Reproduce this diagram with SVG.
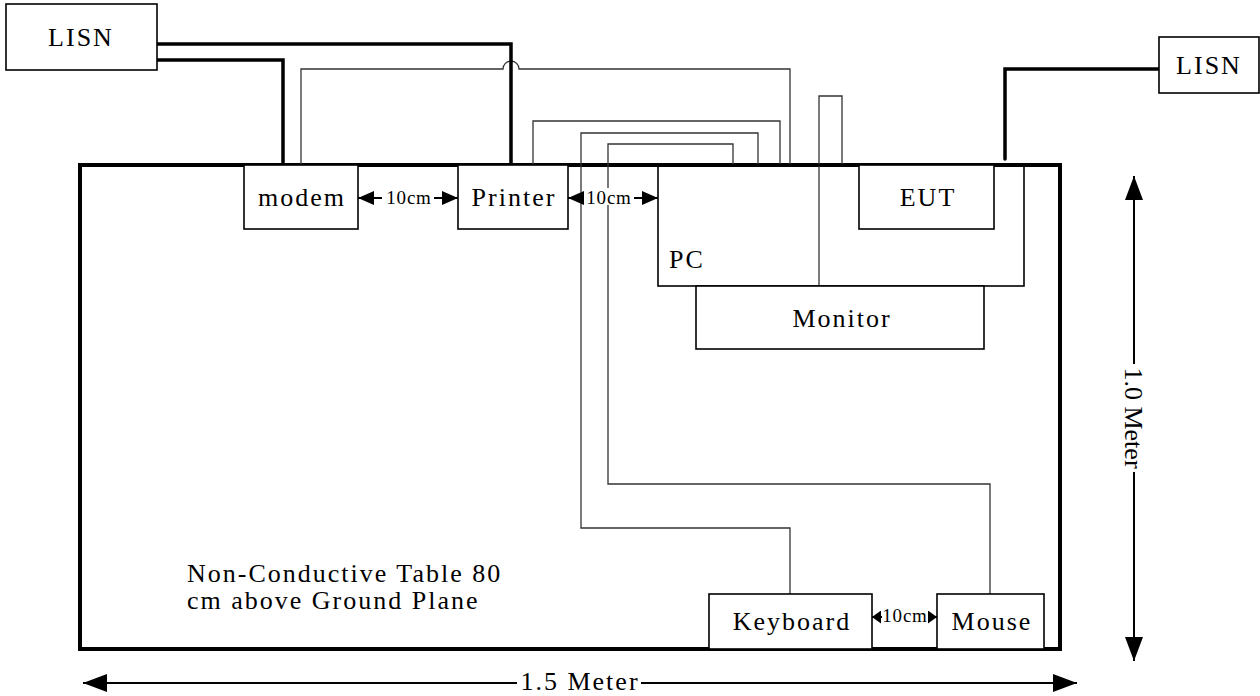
<svg xmlns="http://www.w3.org/2000/svg" width="1260" height="696" viewBox="0 0 1260 696">
<style>
.box{fill:#fff;stroke:#000;stroke-width:1.6}
.table{fill:none;stroke:#000;stroke-width:4}
.thick{fill:none;stroke:#000;stroke-width:3.5;stroke-linecap:round}
.thin{fill:none;stroke:#333;stroke-width:1.3}
.dim{fill:none;stroke:#000;stroke-width:2}
.lbl{font-family:"Liberation Serif","Times New Roman",serif;font-size:26px;letter-spacing:2px;fill:#000}
.c{text-anchor:middle}
.sm{font-family:"Liberation Serif","Times New Roman",serif;font-size:19px;letter-spacing:0.8px;fill:#000;text-anchor:middle}
</style>
<defs>
<marker id="big" markerUnits="userSpaceOnUse" markerWidth="24" markerHeight="18" refX="24" refY="9" orient="auto-start-reverse"><path d="M0,0 L24,9 L0,18 z" fill="#000"/></marker>
<marker id="mid" markerUnits="userSpaceOnUse" markerWidth="16" markerHeight="14" refX="16" refY="7" orient="auto"><path d="M0,0 L16,7 L0,14 z" fill="#000"/></marker>
<marker id="tiny" markerUnits="userSpaceOnUse" markerWidth="9" markerHeight="13" refX="9" refY="6.5" orient="auto"><path d="M0,0 L9,6.5 L0,13 z" fill="#000"/></marker>
</defs>
<rect width="1260" height="696" fill="#fff"/>

<g id="table">
<rect class="table" x="80" y="165" width="980" height="484"/>
<text class="lbl" x="187" y="582">Non-Conductive Table 80</text>
<text class="lbl" x="187" y="609">cm above Ground Plane</text>
</g>

<g id="connectors">
<path class="thin" d="M301,165 V69 H503 A8,8 0 0 1 519,69 H790 V165"/>
<path class="thin" d="M533,165 V121 H780 V165"/>
<path class="thin" d="M758,165 V133 H581 V528 H790 V594"/>
<path class="thin" d="M733,165 V144 H608 V484 H990 V594"/>
<path class="thin" d="M842,165 V96 H819 V286"/>
<path class="thick" d="M157,44 H511 V163"/>
<path class="thick" d="M157,60 H283 V163"/>
<path class="thick" d="M1159,69 H1005 V159"/>
</g>

<g id="lisn-left"><rect class="box" x="6" y="4" width="151" height="66"/><text class="lbl c" x="81" y="46">LISN</text></g>
<g id="lisn-right"><rect class="box" x="1159" y="37" width="100" height="56"/><text class="lbl c" x="1209" y="74">LISN</text></g>
<g id="modem"><rect class="box" x="244" y="165" width="114" height="64"/><text class="lbl c" x="302" y="206">modem</text></g>
<g id="printer"><rect class="box" x="458" y="165" width="110" height="64"/><text class="lbl c" x="514" y="206">Printer</text></g>
<g id="pc"><rect class="box" x="658" y="165" width="366" height="121" style="fill:none"/><text class="lbl" x="669" y="268">PC</text></g>
<g id="eut"><rect class="box" x="859" y="165" width="135" height="64"/><text class="lbl c" x="928" y="206">EUT</text></g>
<g id="monitor"><rect class="box" x="696" y="286" width="288" height="63"/><text class="lbl c" x="842" y="327">Monitor</text></g>
<g id="keyboard"><rect class="box" x="709" y="594" width="163" height="55"/><text class="lbl c" x="792" y="630">Keyboard</text></g>
<g id="mouse"><rect class="box" x="937" y="594" width="107" height="55"/><text class="lbl c" x="992" y="630">Mouse</text></g>

<g id="spacing">
<path class="dim" d="M382,198 H358" marker-end="url(#mid)"/>
<path class="dim" d="M434,198 H458" marker-end="url(#mid)"/>
<text class="sm" x="409" y="204">10cm</text>
<rect x="598" y="188" width="20" height="17" fill="#fff"/>
<path class="dim" d="M584,198 H568" marker-end="url(#mid)"/>
<path class="dim" d="M634,198 H658" marker-end="url(#mid)"/>
<text class="sm" x="609" y="204">10cm</text>
<path class="dim" d="M882,617 H872" marker-end="url(#tiny)"/>
<path class="dim" d="M928,617 H937" marker-end="url(#tiny)"/>
<text class="sm" x="905" y="622">10cm</text>
</g>

<g id="dimensions">
<path class="dim" d="M517,683 H83" marker-end="url(#big)"/>
<path class="dim" d="M641,683 H1077" marker-end="url(#big)"/>
<text class="lbl c" x="580" y="690">1.5 Meter</text>
<path class="dim" d="M1134,364 V176" marker-end="url(#big)"/>
<path class="dim" d="M1134,472 V661" marker-end="url(#big)"/>
<text class="lbl c" style="letter-spacing:0" transform="translate(1125,418) rotate(90)">1.0 Meter</text>
</g>
</svg>
